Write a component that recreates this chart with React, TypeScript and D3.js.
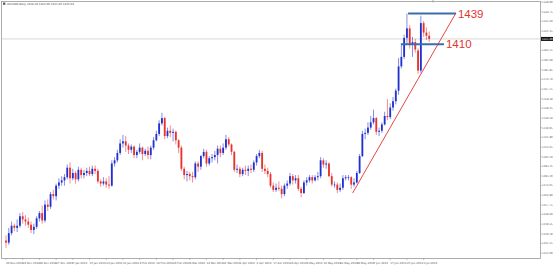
import React, { useEffect } from 'react';
import * as d3 from 'd3';

const W = 553;
const H = 267;

const TITLE = 'XAUUSD,Daily  1418.20 1422.06 1411.85 1415.03';

const OPEN = [
  1224, 1222, 1231, 1238, 1236, 1238, 1247, 1244, 1242, 1239, 1234, 1237, 1245, 1250, 1243, 1258, 1256, 1268, 1266, 1276,
  1279, 1281, 1284, 1293, 1283, 1288, 1282, 1291, 1286, 1288, 1290, 1287, 1292, 1290, 1280, 1278, 1280, 1277, 1276, 1297,
  1300, 1307, 1316, 1318, 1314, 1310, 1313, 1305, 1308, 1312, 1306, 1309, 1305, 1312, 1319, 1325, 1335, 1340, 1323, 1328,
  1326, 1327, 1319, 1312, 1292, 1286, 1287, 1285, 1284, 1297, 1294, 1304, 1308, 1297, 1302, 1303, 1305, 1311, 1307, 1312,
  1320, 1315, 1308, 1291, 1292, 1287, 1291, 1290, 1292, 1291, 1298, 1304, 1307, 1292, 1290, 1287, 1276, 1272, 1274, 1273,
  1268, 1276, 1278, 1285, 1281, 1283, 1273, 1269, 1279, 1281, 1284, 1281, 1284, 1285, 1300, 1296, 1297, 1285, 1277, 1277,
  1272, 1274, 1283, 1284, 1284, 1277, 1279, 1288, 1304, 1325, 1326, 1331, 1336, 1340, 1327, 1328, 1334, 1342, 1341, 1350,
  1356, 1366, 1389, 1398, 1416, 1425, 1410, 1412, 1404, 1385, 1430, 1421, 1418,
];
const HIGH = [
  1229, 1236, 1242, 1240, 1244, 1250, 1251, 1248, 1246, 1242, 1240, 1247, 1252, 1257, 1262, 1263, 1270, 1272, 1278, 1283,
  1285, 1287, 1296, 1298, 1292, 1290, 1294, 1293, 1291, 1293, 1294, 1295, 1295, 1292, 1282, 1284, 1283, 1285, 1300, 1303,
  1310, 1320, 1324, 1323, 1316, 1315, 1314, 1310, 1316, 1313, 1311, 1313, 1314, 1322, 1328, 1338, 1345, 1341, 1331, 1333,
  1330, 1328, 1320, 1314, 1294, 1290, 1289, 1289, 1299, 1299, 1305, 1311, 1310, 1304, 1306, 1309, 1314, 1314, 1316, 1324,
  1322, 1316, 1309, 1296, 1294, 1293, 1295, 1295, 1296, 1300, 1306, 1310, 1309, 1296, 1293, 1289, 1279, 1278, 1280, 1276,
  1278, 1281, 1288, 1287, 1286, 1286, 1275, 1281, 1284, 1286, 1286, 1286, 1289, 1303, 1302, 1300, 1298, 1288, 1280, 1279,
  1278, 1286, 1286, 1286, 1285, 1283, 1290, 1306, 1328, 1330, 1336, 1342, 1348, 1341, 1331, 1336, 1346, 1358, 1354, 1360,
  1368, 1397, 1411, 1419, 1439, 1428, 1417, 1415, 1406, 1437, 1432, 1426, 1422,
];
const LOW = [
  1217, 1220, 1229, 1233, 1232, 1236, 1240, 1238, 1236, 1231, 1230, 1235, 1242, 1240, 1241, 1252, 1254, 1263, 1262, 1273,
  1276, 1276, 1282, 1278, 1281, 1278, 1280, 1283, 1283, 1285, 1285, 1285, 1287, 1278, 1275, 1276, 1274, 1273, 1275, 1294,
  1298, 1305, 1312, 1308, 1306, 1307, 1302, 1302, 1306, 1300, 1304, 1301, 1301, 1310, 1318, 1323, 1333, 1320, 1321, 1322,
  1318, 1315, 1307, 1290, 1282, 1280, 1281, 1279, 1282, 1289, 1291, 1302, 1294, 1295, 1298, 1300, 1297, 1303, 1305, 1310,
  1313, 1305, 1289, 1288, 1284, 1285, 1286, 1285, 1288, 1289, 1295, 1302, 1289, 1287, 1284, 1274, 1270, 1270, 1271, 1264,
  1266, 1273, 1276, 1277, 1278, 1271, 1265, 1268, 1276, 1279, 1278, 1280, 1281, 1283, 1293, 1292, 1284, 1275, 1274, 1269,
  1270, 1272, 1281, 1281, 1273, 1275, 1278, 1287, 1303, 1320, 1324, 1329, 1334, 1324, 1323, 1326, 1333, 1338, 1339, 1347,
  1353, 1362, 1387, 1396, 1410, 1406, 1398, 1402, 1382, 1383, 1417, 1414, 1412,
];
const CLOSE = [
  1222, 1231, 1238, 1236, 1238, 1247, 1244, 1242, 1239, 1234, 1237, 1245, 1250, 1243, 1258, 1256, 1268, 1266, 1276, 1279,
  1281, 1284, 1293, 1283, 1288, 1282, 1291, 1286, 1288, 1290, 1287, 1292, 1290, 1280, 1278, 1280, 1277, 1276, 1297, 1300,
  1307, 1316, 1318, 1314, 1310, 1313, 1305, 1308, 1312, 1306, 1309, 1305, 1312, 1319, 1325, 1335, 1340, 1323, 1328, 1326,
  1327, 1319, 1312, 1292, 1286, 1287, 1285, 1284, 1297, 1294, 1304, 1308, 1297, 1302, 1303, 1305, 1311, 1307, 1312, 1320,
  1315, 1308, 1291, 1292, 1287, 1291, 1290, 1292, 1291, 1298, 1304, 1307, 1292, 1290, 1287, 1276, 1272, 1274, 1273, 1268,
  1276, 1278, 1285, 1281, 1283, 1273, 1269, 1279, 1281, 1284, 1281, 1284, 1285, 1300, 1296, 1297, 1285, 1277, 1277, 1272,
  1274, 1283, 1284, 1284, 1277, 1279, 1288, 1304, 1325, 1326, 1331, 1336, 1340, 1327, 1328, 1334, 1342, 1341, 1350, 1356,
  1366, 1389, 1398, 1416, 1425, 1410, 1412, 1405, 1385, 1430, 1421, 1418, 1415,
];

const TIME_LABELS = [
  '30 Nov 2018', '10 Dec 2018', '18 Dec 2018', '27 Dec 2018', '7 Jan 2019', '15 Jan 2019', '23 Jan 2019',
  '31 Jan 2019', '8 Feb 2019', '18 Feb 2019', '26 Feb 2019', '6 Mar 2019', '14 Mar 2019', '22 Mar 2019',
  '1 Apr 2019', '9 Apr 2019', '17 Apr 2019', '26 Apr 2019', '6 May 2019', '14 May 2019', '22 May 2019',
  '30 May 2019', '7 Jun 2019', '17 Jun 2019', '25 Jun 2019', '3 Jul 2019',
];
const TIME_LABEL_STEP = 6;

const PRICE_TICKS = [
  1449.9, 1440.75, 1431.6, 1422.45, 1413.3, 1404.15, 1395.0, 1385.85, 1376.7, 1367.55, 1358.4, 1349.25, 1340.1,
  1330.95, 1321.8, 1312.65, 1303.5, 1294.35, 1285.2, 1276.05, 1266.9, 1257.75, 1248.6, 1239.45, 1230.3, 1221.15,
  1212.0, 1202.85,
];

// annotations (bar index, price)
const LEVEL_PRICES = [1439, 1410];
const LEVEL_LABELS = ['1439', '1410'];
const LEVEL_FROM = [144.4, 141.9];
const LEVEL_TO = [161.6, 157.3];
const TREND_FROM = [124.5, 1269];
const TREND_TO = [161.6, 1439.6];

const PLOT_LEFT = 1.5;
const PLOT_RIGHT = 540.5;
const PLOT_TOP = 1.5;
const PLOT_BOTTOM = 258.5;

const BULL = '#1f2fd0';
const BEAR = '#e8302c';

export default function App() {
  useEffect(() => {
    document.body.style.margin = '0';
  }, []);

  const n = CLOSE.length;
  const x = d3.scaleLinear().domain([0, n - 1]).range([6, 429.2]);
  const y = d3.scaleLinear().domain([1206.5, 1450]).range([259, 2]);

  const last = CLOSE[n - 1];
  const fmt = d3.format('.2f');

  const candles = CLOSE.map((c, i) => {
    const o = OPEN[i];
    const up = c >= o;
    const col = up ? BULL : BEAR;
    const cx = x(i);
    const top = y(Math.max(o, c));
    const bot = y(Math.min(o, c));
    return (
      <g key={i}>
        <line x1={cx} x2={cx} y1={y(HIGH[i])} y2={y(LOW[i])} stroke={col} strokeWidth={0.55} />
        <rect x={cx - 0.9} y={top} width={1.8} height={Math.max(0.7, bot - top)} fill={col} />
      </g>
    );
  });

  const visibleTicks = PRICE_TICKS.filter((p) => y(p) <= 262 && Math.abs(y(p) - y(last)) > 4);

  return (
    <svg
      width={W}
      height={H}
      style={{ position: 'fixed', left: 0, top: 0, background: '#fff', fontFamily: 'DejaVu Sans, sans-serif' }}
    >
      <rect x={0} y={0} width={W} height={H} fill="#fff" />
      {/* frame */}
      <rect
        x={PLOT_LEFT}
        y={PLOT_TOP}
        width={PLOT_RIGHT - PLOT_LEFT}
        height={PLOT_BOTTOM - PLOT_TOP}
        fill="none"
        stroke="#9a9a9a"
        strokeWidth={0.8}
      />
      {/* title */}
      <rect x={3} y={2.5} width={2.4} height={2.4} fill="#666" />
      <text x={7} y={5} fontSize={2.7} fill="#444">
        {TITLE}
      </text>
      {/* chart shift marker */}
      <line x1={433} x2={433} y1={0} y2={2.5} stroke="#999" strokeWidth={0.8} />

      {/* current price line */}
      <line x1={PLOT_LEFT} x2={PLOT_RIGHT} y1={y(last)} y2={y(last)} stroke="#c4c4c4" strokeWidth={0.7} />

      {candles}

      {/* price axis */}
      {visibleTicks.map((p) => (
        <g key={p}>
          <line x1={PLOT_RIGHT} x2={PLOT_RIGHT + 1.2} y1={y(p)} y2={y(p)} stroke="#888" strokeWidth={0.5} />
          <text x={PLOT_RIGHT + 1.6} y={y(p) + 0.9} fontSize={2.55} fill="#555">
            {fmt(p)}
          </text>
        </g>
      ))}
      <rect x={PLOT_RIGHT + 0.5} y={y(last) - 2} width={W - PLOT_RIGHT - 0.5} height={4} fill="#111" />
      <text x={PLOT_RIGHT + 1.6} y={y(last) + 0.9} fontSize={2.55} fill="#fff">
        {fmt(last)}
      </text>

      {/* time axis */}
      {TIME_LABELS.map((t, k) => {
        const xi = x(k * TIME_LABEL_STEP);
        return (
          <g key={t}>
            <line x1={xi} x2={xi} y1={PLOT_BOTTOM} y2={PLOT_BOTTOM + 1.5} stroke="#888" strokeWidth={0.5} />
            <text x={xi} y={264} fontSize={2.7} fill="#555">
              {t}
            </text>
          </g>
        );
      })}

      {/* trend line */}
      <line
        x1={x(TREND_FROM[0])}
        y1={y(TREND_FROM[1])}
        x2={x(TREND_TO[0])}
        y2={y(TREND_TO[1])}
        stroke="#e2332f"
        strokeWidth={0.9}
      />
      {/* levels */}
      {LEVEL_PRICES.map((p, k) => (
        <g key={p}>
          <line
            x1={x(LEVEL_FROM[k])}
            x2={x(LEVEL_TO[k])}
            y1={y(p)}
            y2={y(p)}
            stroke="#3b6ea8"
            strokeWidth={2}
          />
          <text
            x={x(LEVEL_TO[k]) + 2}
            y={y(p) + 4}
            fontSize={11.5}
            fill="#e2332f"
            fontFamily="Liberation Sans, Arial, sans-serif"
          >
            {LEVEL_LABELS[k]}
          </text>
        </g>
      ))}
    </svg>
  );
}
